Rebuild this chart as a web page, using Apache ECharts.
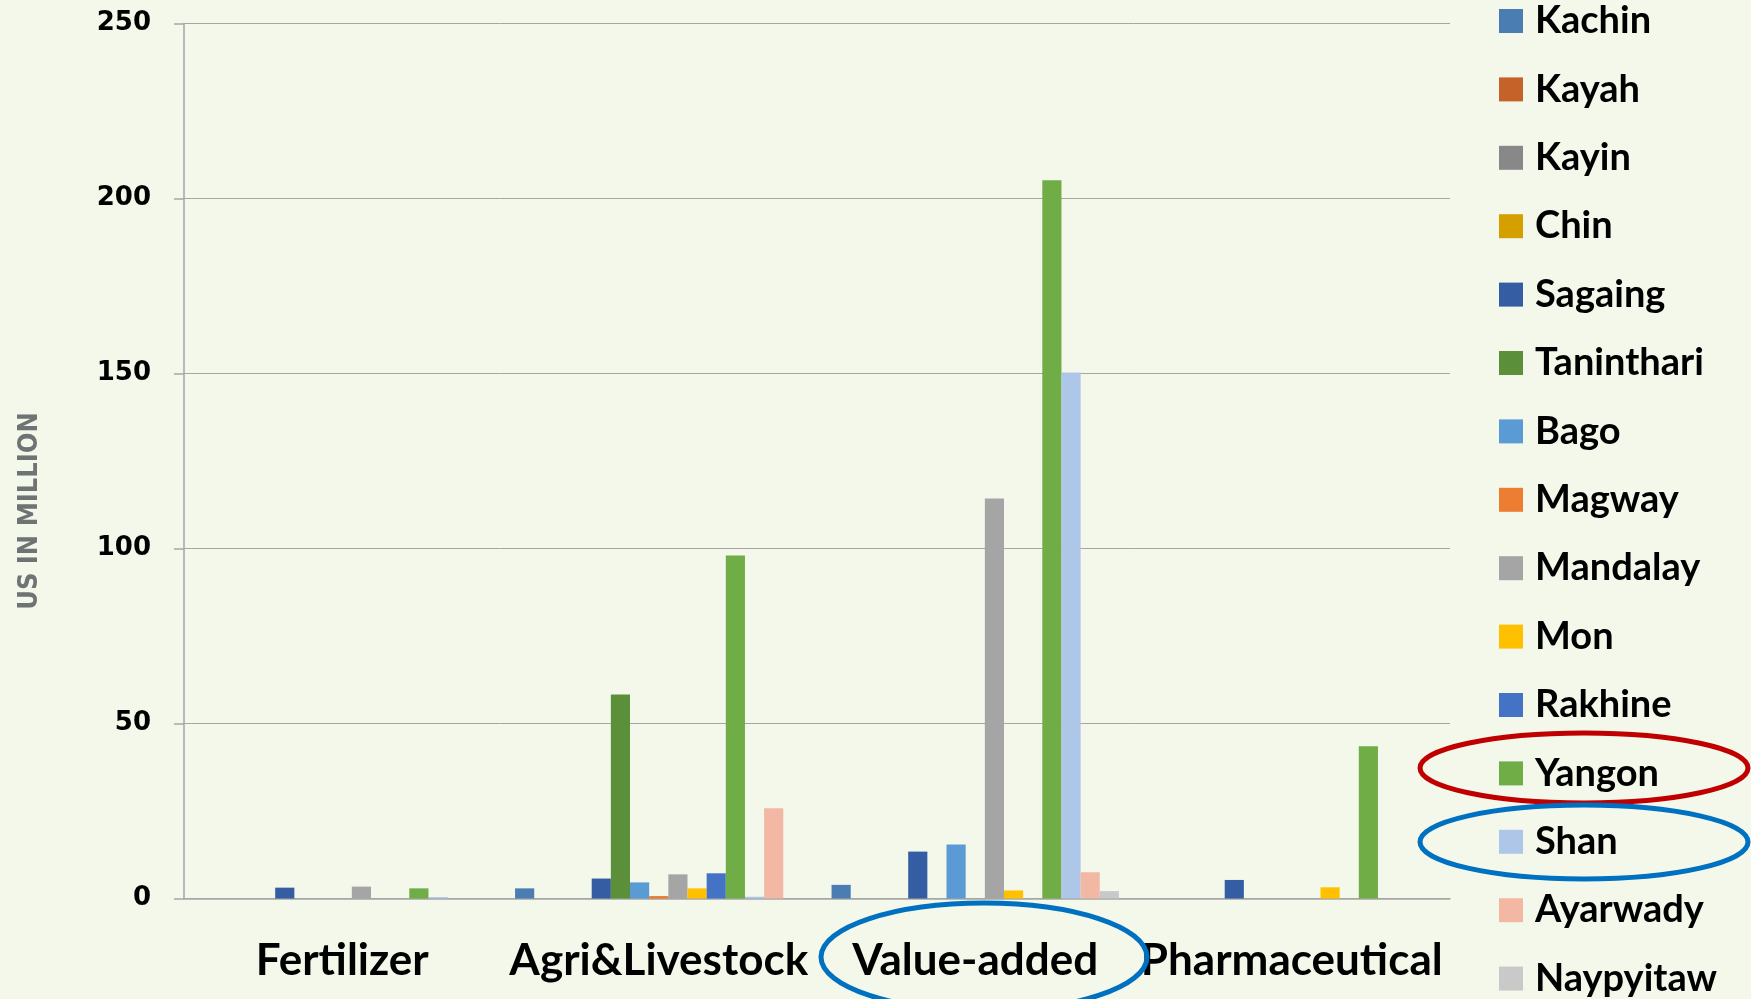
<!DOCTYPE html>
<html>
<head>
<meta charset="utf-8">
<script src="https://cdn.jsdelivr.net/npm/echarts@6/dist/echarts.min.js"></script>
<style>
  html, body { margin: 0; padding: 0; background: #f3f8eb; }
  #chart { width: 1751px; height: 999px; }
</style>
</head>
<body>
<div id="chart"></div>
<script>
// categories on the x axis
const categories = ["Fertilizer", "Agri&Livestock", "Value-added", "Pharmaceutical"];
// regions (legend order)
const regions = ["Kachin", "Kayah", "Kayin", "Chin", "Sagaing", "Taninthari", "Bago", "Magway",
  "Mandalay", "Mon", "Rakhine", "Yangon", "Shan", "Ayarwady", "Naypyitaw"];
// values per region, US$ million, one per category
const kachin = [0, 2.9, 3.9, 0];
const kayah = [0, 0, 0, 0];
const kayin = [0, 0, 0, 0];
const chin = [0, 0, 0, 0];
const sagaing = [3.1, 5.7, 13.4, 5.3];
const taninthari = [0, 58.3, 0, 0];
const bago = [0, 4.6, 15.4, 0];
const magway = [0, 0.7, 0, 0];
const mandalay = [3.4, 6.9, 114.3, 0];
const mon = [0, 2.9, 2.3, 3.2];
const rakhine = [0, 7.2, 0, 0];
const yangon = [2.9, 98, 205.2, 43.5];
const shan = [0.4, 0.5, 150.3, 0];
const ayarwady = [0, 25.8, 7.5, 0];
const naypyitaw = [0, 0, 2.1, 0];
// y tick labels
const yTicks = [0, 50, 100, 150, 200, 250];

const values = [kachin, kayah, kayin, chin, sagaing, taninthari, bago, magway,
  mandalay, mon, rakhine, yangon, shan, ayarwady, naypyitaw];
const colors = ["#4a7eb2", "#c5622a", "#888888", "#d4a000", "#355da3", "#5b8f3a", "#5b9bd5", "#ed7d31",
  "#a5a5a5", "#ffc000", "#4472c4", "#70ad47", "#aec6e8", "#f3b8a4", "#c9c9c9"];

const myChart = echarts.init(document.getElementById("chart"));

const series = regions.map((name, i) => ({
  name: name,
  type: "bar",
  data: values[i],
  barGap: "0%",
  barCategoryGap: "9.2%",
  itemStyle: { color: colors[i] },
}));

const option = {
  backgroundColor: "#f3f8eb",
  animation: false,
  color: colors,
  grid: { left: 184, right: 301, top: 23.5, bottom: 100.5 },
  legend: {
    orient: "vertical",
    left: 1499,
    top: 2,
    padding: 0,
    icon: "rect",
    itemWidth: 24,
    itemHeight: 24,
    itemGap: 30.4,
    textStyle: {
      fontFamily: "Lato",
      fontWeight: "bold",
      fontSize: 38,
      lineHeight: 38,
      color: "#000",
      padding: [0, 0, 0, 7],
    },
    data: regions,
  },
  xAxis: {
    type: "category",
    data: categories,
    axisLine: { lineStyle: { color: "#a6a6a6", width: 1.5 } },
    axisTick: { length: 15, lineStyle: { color: "#a6a6a6", width: 1.5 } },
    axisLabel: {
      interval: 0,
      margin: 40,
      fontFamily: "Lato",
      fontWeight: "bold",
      fontSize: 44,
      color: "#000",
    },
  },
  yAxis: {
    type: "value",
    min: yTicks[0],
    max: yTicks[yTicks.length - 1],
    interval: 50,
    axisLine: { show: true, lineStyle: { color: "#a6a6a6", width: 1.5 } },
    axisTick: { show: true, length: 10, lineStyle: { color: "#a6a6a6", width: 1.5 } },
    splitLine: { lineStyle: { color: "#a6a6a6", width: 1 } },
    axisLabel: {
      margin: 33,
      fontFamily: "DejaVu Sans",
      fontWeight: "bold",
      fontSize: 26,
      color: "#000",
    },
  },
  graphic: [
    {
      // y axis title, sits a bit below the axis middle
      type: "text",
      x: 30,
      y: 511,
      rotation: Math.PI / 2,
      style: {
        text: "US IN MILLION",
        fontFamily: "DejaVu Sans Condensed",
        fontWeight: "bold",
        fontSize: 27,
        fill: "#6e7373",
        align: "center",
        verticalAlign: "middle",
      },
    },
    {
      // Yangon highlight
      type: "ellipse",
      shape: { cx: 1584, cy: 768, rx: 164, ry: 35 },
      style: { fill: "none", stroke: "#c00000", lineWidth: 5 },
      z: 100,
    },
    {
      // Shan highlight
      type: "ellipse",
      shape: { cx: 1584, cy: 842, rx: 164, ry: 37 },
      style: { fill: "none", stroke: "#0070c0", lineWidth: 5 },
      z: 100,
    },
    {
      // Value-added highlight
      type: "ellipse",
      shape: { cx: 984, cy: 957, rx: 163, ry: 54 },
      style: { fill: "none", stroke: "#0070c0", lineWidth: 5 },
      z: 100,
    },
  ],
  series: series,
};

myChart.setOption(option);
window.addEventListener("resize", () => {
  myChart.resize();
});
</script>
</body>
</html>
